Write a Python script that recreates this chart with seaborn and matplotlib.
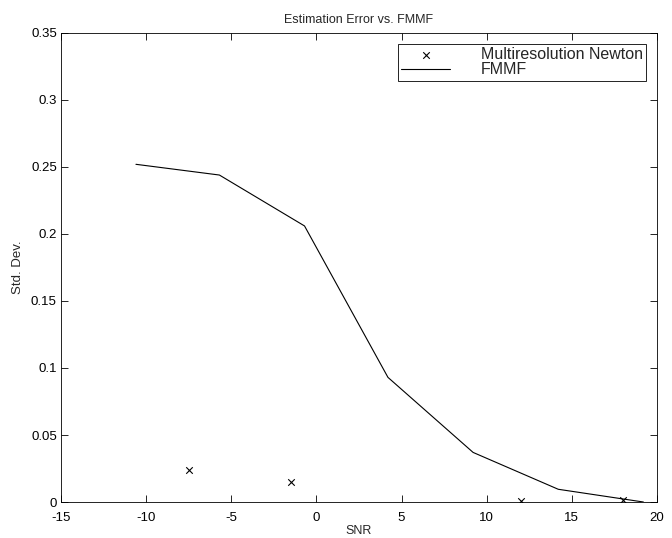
import matplotlib
matplotlib.use("Agg")
import matplotlib.pyplot as plt
import seaborn as sns
import pandas as pd

# FMMF estimation error curve
fmmf_snr = [-10.6, -5.7, -0.7, 4.2, 9.2, 14.2, 19.2]
fmmf_std = [0.252, 0.244, 0.206, 0.093, 0.037, 0.0095, 0.0]

# Multiresolution Newton results
newton_snr = [-7.5, -1.5, 12.0, 18.0]
newton_std = [0.024, 0.015, 0.001, 0.0015]

x_ticks = [-15, -10, -5, 0, 5, 10, 15, 20]
y_ticks = [0, 0.05, 0.1, 0.15, 0.2, 0.25, 0.3, 0.35]
y_tick_labels = ["0", "0.05", "0.1", "0.15", "0.2", "0.25", "0.3", "0.35"]

sns.set_style("ticks")
plt.rcParams["font.family"] = ["Liberation Sans", "DejaVu Sans"]
plt.rcParams["xtick.direction"] = "in"
plt.rcParams["ytick.direction"] = "in"

fig = plt.figure(figsize=(6.72, 5.38), dpi=100)
ax = fig.add_axes([0.0908, 0.0669, 0.8869, 0.8718])

newton_df = pd.DataFrame({"snr": newton_snr, "std": newton_std})
fmmf_df = pd.DataFrame({"snr": fmmf_snr, "std": fmmf_std})

sns.scatterplot(data=newton_df, x="snr", y="std", marker="x", color="black",
                s=22, linewidth=0.8, ax=ax, label="Multiresolution Newton")
sns.lineplot(data=fmmf_df, x="snr", y="std", color="black", linewidth=0.8,
             ax=ax, label="FMMF", sort=False)

ax.set_xlim(-15, 20)
ax.set_ylim(0, 0.35)
ax.set_xticks(x_ticks)
ax.set_xticklabels([str(t) for t in x_ticks])
ax.set_yticks(y_ticks)
ax.set_yticklabels(y_tick_labels)
ax.tick_params(axis="both", which="both", direction="in", length=5, width=0.6,
               labelsize=9.5, top=True, right=True, colors="black")
ax.tick_params(axis="x", pad=7)
ax.tick_params(axis="y", pad=3)
for sp in ax.spines.values():
    sp.set_visible(True)
    sp.set_color("black")
    sp.set_linewidth(0.6)

ax.set_title("Estimation Error vs. FMMF", fontsize=9, pad=7)
ax.set_xlabel("SNR", fontsize=9, labelpad=1)
ax.set_ylabel("Std. Dev.", fontsize=9.5, labelpad=5)

leg = ax.legend(loc="upper right", fontsize=11.5, frameon=True, fancybox=False,
                edgecolor="black", framealpha=1, labelspacing=0.0,
                handlelength=3.1, handletextpad=1.9, borderpad=0.2,
                borderaxespad=0.7)
leg.get_frame().set_linewidth(0.6)

fig.savefig("out.png", dpi=100)
